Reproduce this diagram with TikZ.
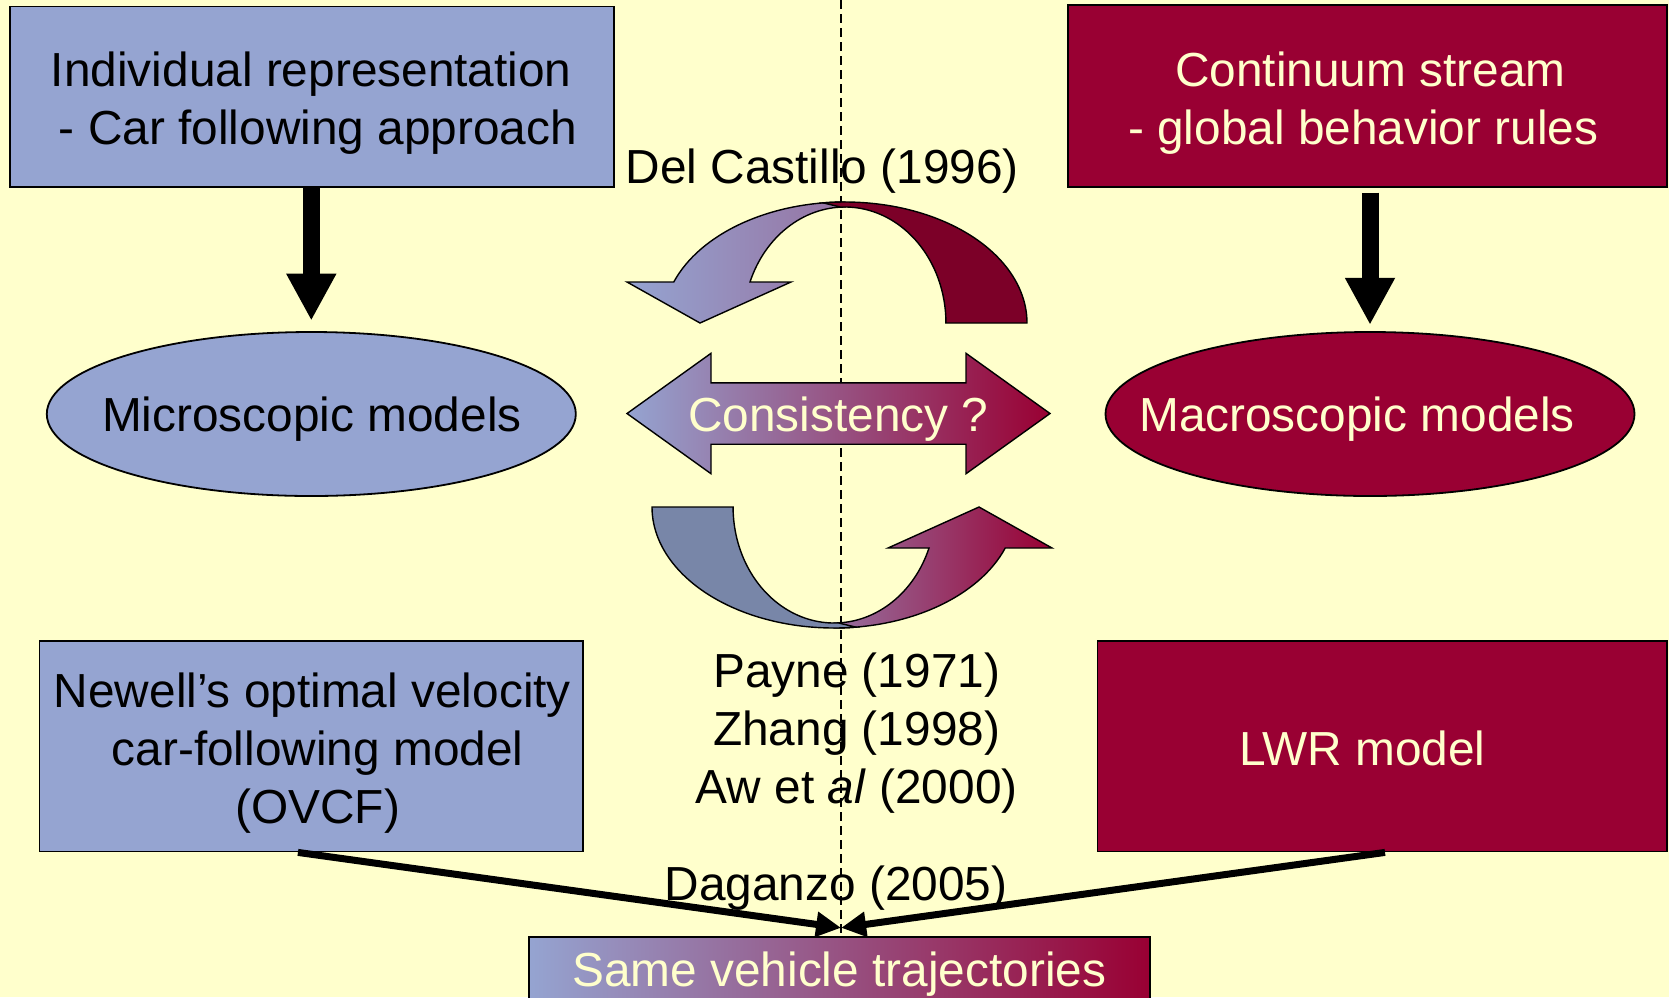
\documentclass[tikz,border=0pt]{standalone}
\usepackage{fontspec}
\setmainfont{Liberation Sans}
\usetikzlibrary{shapes.geometric,arrows.meta,calc}
\definecolor{bgC}{RGB}{255,255,204}
\definecolor{blueC}{RGB}{149,164,209}
\definecolor{redC}{RGB}{153,0,51}
\definecolor{darkredC}{RGB}{124,0,40}
\definecolor{slateC}{RGB}{120,134,168}
\definecolor{creamC}{RGB}{255,255,204}
\begin{document}
\begin{tikzpicture}[x=0.5pt,y=-0.5pt,
  every node/.style={font=\fontsize{23.9pt}{29pt}\selectfont},
  txt/.style={anchor=base, align=center, inner sep=0pt, text=black},
  ltxt/.style={txt, text=creamC},
  bbox/.style={draw=black, line width=0.9pt, fill=blueC, inner sep=0pt},
  rbox/.style={draw=black, line width=0.9pt, fill=redC, inner sep=0pt},
  bell/.style={ellipse, draw=black, line width=0.9pt, inner sep=0pt, minimum width=264.5pt, minimum height=82pt},
  blockarr/.style={line width=8.5pt, -{Triangle[length=23.5pt,width=23.5pt]}},
  conv/.style={line width=3.5pt, -{Triangle[length=12.5pt,width=12pt]}},
  curvarr/.style={draw=black, line width=0.7pt, line join=miter},
  vline/.style={draw=black, line width=0.85pt, dash pattern=on 4.6pt off 2.4pt}
]
\useasboundingbox (0,0) rectangle (1669,997);
\fill[bgC] (0,0) rectangle (1669,997);

% dashed separator
\coordinate (dtop) at (840.7,0);
\coordinate (dbot) at (840.7,997);
\draw[vline] (dtop) -- (dbot);

% boxes
\node[bbox, minimum width=302.3pt, minimum height=90.45pt] (tl) at (311.9,96.85) {};
\node[rbox, minimum width=299.7pt, minimum height=91pt] (tr) at (1367.3,96.3) {};
\node[bbox, minimum width=271.95pt, minimum height=105.35pt] (bl) at (311.35,746.15) {};
\node[rbox, minimum width=284.8pt, minimum height=105.35pt] (br) at (1382.2,746.15) {};

% ellipses
\node[bell, fill=blueC] (micro) at (311.3,414) {};
\node[bell, fill=redC] (macro) at (1370,414) {};

% block arrows
\draw[blockarr, shorten >=5.25pt] (tl.south -| micro.north) -- (micro.north);
\draw[blockarr, shorten <=2.15pt, shorten >=3.15pt] (tr.south -| macro.north) -- (macro.north);

% top curved arrow (Del Castillo): head band, then tail band in front
\draw[curvarr, left color=blueC, right color=blueC!70!redC] (845,202)
  arc[start angle=-90, end angle=-160.2, x radius=182, y radius=121]
  -- (627,282) -- (700,323) -- (791,282) -- (750,282)
  arc[start angle=-159.3, end angle=-90, x radius=101.6, y radius=116] -- cycle;
\draw[curvarr, fill=darkredC] (1027,323) arc[start angle=0, end angle=-96.9, x radius=182, y radius=121]
  -- (840.7,207.1) arc[start angle=-92.4, end angle=0, x radius=101, y radius=116] -- cycle;

% bottom curved arrow: head band, then tail band in front
\draw[curvarr, left color=blueC!68!redC, right color=redC] (834,628)
  arc[start angle=90, end angle=19.8, x radius=182, y radius=121]
  -- (1052,548) -- (979,507) -- (888,548) -- (929,548)
  arc[start angle=20.7, end angle=90, x radius=101.6, y radius=116] -- cycle;
\draw[curvarr, fill=slateC] (652,507) arc[start angle=180, end angle=83.1, x radius=182, y radius=121]
  -- (838.3,622.9) arc[start angle=87.6, end angle=180, x radius=101, y radius=116] -- cycle;

% double arrow
\draw[curvarr, left color=blueC, right color=redC] (627,413.5) -- (711,353.3) -- (711,382.8)
  -- (966,382.8) -- (966,353.3) -- (1050,413.5) -- (966,473.7) -- (966,444.2)
  -- (711,444.2) -- (711,473.7) -- cycle;

% texts (anchor=base is the baseline of the last line)
\node[txt] (tlt) at (311.3,144) {Individual representation\\\hspace*{0.28em}- Car following approach};
\node[ltxt] (trt) at (1370.5,144) {Continuum stream\\- global behavior rules\hspace*{0.3em}};
\node[txt] (dc) at (822.3,183.5) {Del Castillo (1996)};
\node[txt] (microt) at (311.9,431.5) {Microscopic models};
\node[ltxt] (macrot) at (1357,431.5) {Macroscopic models};
\node[ltxt] (cons) at (838.2,431.5) {Consistency ?};
\node[txt] (blt) at (312.4,823.5) {Newell’s optimal velocity\\\hspace*{0.22em}car-following model\\\hspace*{0.22em}(OVCF)};
\node[ltxt] (brt) at (1362.5,765.5) {LWR model};
\node[txt] (refs) at (856.7,803) {Payne (1971)\\Zhang (1998)\\Aw et \textit{al} (2000)};
\node[txt] (dag) at (836.1,900) {Daganzo (2005)};

% bottom box
\node[draw=black, line width=0.9pt, left color=blueC, right color=redC, inner sep=0pt,
  minimum width=310.5pt, minimum height=31.65pt] (sv) at (839.5,968.35) {};
\node[ltxt] (svt) at (839.3,986) {Same vehicle trajectories};

% converging arrows
\coordinate (meet) at ([xshift=0.8pt,yshift=4pt]sv.north);
\draw[conv] ([xshift=-6.7pt]bl.south) -- (meet);
\draw[conv] ([xshift=1.4pt]br.south) -- (meet);
\end{tikzpicture}
\end{document}
